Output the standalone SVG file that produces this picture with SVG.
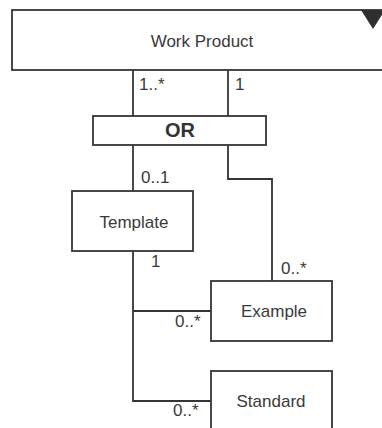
<svg xmlns="http://www.w3.org/2000/svg" width="382" height="428" viewBox="0 0 382 428">
  <style>
    .box { fill: #ffffff; stroke: #353535; stroke-width: 1.8; }
    .wire { fill: none; stroke: #353535; stroke-width: 1.8; }
    .name { font-family: "Liberation Sans", Arial, sans-serif; font-size: 17px; fill: #3a3a3a; text-anchor: middle; }
    .mult { font-family: "Liberation Sans", Arial, sans-serif; font-size: 17px; fill: #3a3a3a; }
    .op { font-family: "Liberation Sans", Arial, sans-serif; font-size: 20px; font-weight: bold; fill: #333333; text-anchor: middle; }
  </style>

  <rect width="382" height="428" fill="#ffffff"/>

  <!-- connectors -->
  <g id="connectors" class="wire">
    <line x1="133" y1="70" x2="133" y2="116"/>
    <line x1="228" y1="70" x2="228" y2="116"/>
    <line x1="133" y1="145" x2="133" y2="191"/>
    <polyline points="228,145 228,179 272,179 272,281"/>
    <polyline points="133,251 133,401 211,401"/>
    <line x1="133" y1="311" x2="211" y2="311"/>
  </g>

  <!-- multiplicities -->
  <g id="multiplicities" class="mult">
    <text x="139" y="90">1..*</text>
    <text x="235" y="90">1</text>
    <text x="141" y="183">0..1</text>
    <text x="151" y="267">1</text>
    <text x="281" y="274">0..*</text>
    <text x="175" y="327">0..*</text>
    <text x="173" y="416">0..*</text>
  </g>

  <g id="work-product">
    <rect class="box" x="12" y="10" width="380" height="60"/>
    <polygon points="361,10 385,10 373,29" fill="#2f2f2f"/>
    <text class="name" x="202" y="47">Work Product</text>
  </g>

  <g id="or">
    <rect class="box" x="93" y="116" width="173" height="29"/>
    <text class="op" x="180" y="137">OR</text>
  </g>

  <g id="template">
    <rect class="box" x="72" y="191" width="121" height="60"/>
    <text class="name" x="134" y="228">Template</text>
  </g>

  <g id="example">
    <rect class="box" x="211" y="281" width="121" height="60"/>
    <text class="name" x="274" y="317">Example</text>
  </g>

  <g id="standard">
    <rect class="box" x="211" y="371" width="121" height="70"/>
    <text class="name" x="271" y="407">Standard</text>
  </g>
</svg>
